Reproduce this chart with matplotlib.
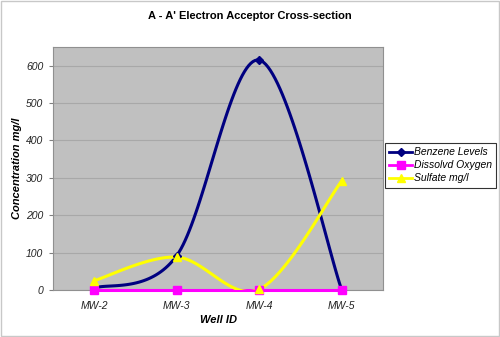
import numpy as np
import matplotlib.pyplot as plt
from matplotlib.patches import Rectangle

# puits le long de la coupe A - A'
wells = ['MW-2', 'MW-3', 'MW-4', 'MW-5']
benzene = [5, 92, 615, 0]
oxygen = [1, 1, 1, 1]
sulfate = [25, 88, 2, 292]

plt.rcParams['font.family'] = ['Liberation Sans', 'DejaVu Sans']


# courbe lissée façon tableur (Catmull-Rom passant par chaque point)
def smooth(y, n=40):
	x = np.arange(len(y), dtype=float)
	p = np.array(list(zip(x, y)), dtype=float)
	p = np.vstack([p[0], p, p[-1]])
	xs, ys = [], []
	for i in range(1, len(p) - 2):
		p0, p1, p2, p3 = p[i - 1], p[i], p[i + 1], p[i + 2]
		c1 = p1 + (p2 - p0) / 6
		c2 = p2 - (p3 - p1) / 6
		t = np.linspace(0, 1, n)[:, None]
		b = (1 - t) ** 3 * p1 + 3 * (1 - t) ** 2 * t * c1 + 3 * (1 - t) * t ** 2 * c2 + t ** 3 * p2
		xs.extend(b[:, 0]); ys.extend(b[:, 1])
	return np.array(xs), np.array(ys)


fig = plt.figure(figsize=(5, 3.37), dpi=100)
ax = fig.add_axes([53 / 500, 47 / 337, 330 / 500, 243 / 337])
ax.set_facecolor('#C0C0C0')

series = [
	(benzene, '#000080', 'D', 4, 'Benzene Levels', True),
	(oxygen, '#FF00FF', 's', 6, 'Dissolvd Oxygen', False),
	(sulfate, '#FFFF00', '^', 6, 'Sulfate mg/l', True),
]
handles = []
for vals, col, mk, ms, lab, clip in series:
	sx, sy = smooth(vals)
	ax.plot(sx, sy, color=col, lw=2.2, zorder=3, clip_on=clip)
	ax.plot(range(len(vals)), vals, ls='none', marker=mk, ms=ms, color=col, zorder=4, clip_on=False)
	h, = ax.plot([], [], color=col, lw=2, marker=mk, ms=ms, label=lab)
	handles.append(h)

ax.set_xlim(-0.5, 3.5)
ax.set_ylim(0, 650)
ax.set_yticks(range(0, 700, 100))
ax.set_xticks(range(len(wells)))
ax.set_xticklabels(wells)
ax.grid(axis='y', color='#A8A8A8', lw=0.8)
ax.set_axisbelow(True)
for s in ax.spines.values():
	s.set_color('#909090')
ax.tick_params(axis='y', length=3, color='#808080', labelsize=7.5, pad=4)
ax.tick_params(axis='x', length=0, labelsize=7.5, pad=8)
for lbl in ax.get_xticklabels() + ax.get_yticklabels():
	lbl.set_fontstyle('italic')
	lbl.set_color('#222222')

ax.set_xlabel('Well ID', fontsize=8, fontweight='bold', fontstyle='italic', labelpad=3)
ax.set_ylabel('Concentration mg/l', fontsize=8, fontweight='bold', fontstyle='italic', labelpad=3)
fig.text(0.5, 1 - 16 / 337, "A - A' Electron Acceptor Cross-section",
	ha='center', va='center', fontsize=8, fontweight='bold')

leg = fig.legend(handles=handles, loc='upper left', bbox_to_anchor=(385 / 500, 1 - 143 / 337),
	fontsize=7.5, frameon=True, fancybox=False, handlelength=2.2, handletextpad=0.2,
	borderpad=0.4, labelspacing=0.3, borderaxespad=0)
leg.get_frame().set_edgecolor('black')
leg.get_frame().set_linewidth(0.8)
for t in leg.get_texts():
	t.set_fontstyle('italic')

# cadre gris autour de la figure
fig.patches.append(Rectangle((0.002, 0.003), 0.995, 0.993, transform=fig.transFigure,
	fill=False, ec='#C8C8C8', lw=1))

fig.savefig('out.png', dpi=100)
